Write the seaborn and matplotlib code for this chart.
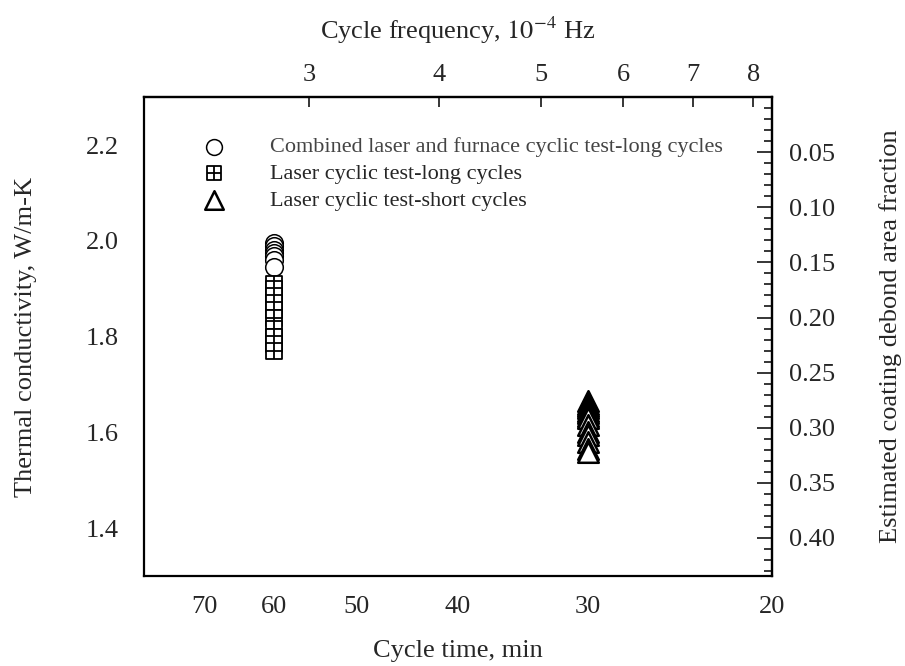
import numpy as np
import pandas as pd
import seaborn as sns
import matplotlib.pyplot as plt
import matplotlib as mpl
from matplotlib.path import Path

# values
combined_time = [60, 60, 60, 60, 60, 60, 60]
combined_k = [1.995, 1.99, 1.982, 1.975, 1.968, 1.96, 1.945]

laser_long_time = [60, 60, 60, 60, 60, 60, 60, 60, 60, 60]
laser_long_k = [1.91, 1.90, 1.885, 1.87, 1.855, 1.84, 1.815, 1.80, 1.785, 1.77]

laser_short_time = [30] * 14
laser_short_k = [1.665, 1.66, 1.655, 1.65, 1.645, 1.64, 1.635, 1.63,
                 1.615, 1.60, 1.595, 1.58, 1.565, 1.56]

labels = ['Combined laser and furnace cyclic test-long cycles',
          'Laser cyclic test-long cycles',
          'Laser cyclic test-short cycles']

bottom_ticks = [70, 60, 50, 40, 30, 20]
top_ticks = [3, 4, 5, 6, 7, 8]
right_ticks = [0.05, 0.10, 0.15, 0.20, 0.25, 0.30, 0.35, 0.40]
k_full = 2.3  # conductivity of an intact coating

sns.set_style('white')
plt.rcParams['font.family'] = ['Liberation Serif', 'DejaVu Serif']
plt.rcParams['mathtext.fontset'] = 'stix'

# square with a cross inside
box_cross = Path(
    [(-1, -1), (1, -1), (1, 1), (-1, 1), (-1, -1), (0, -1), (0, 1), (-1, 0), (1, 0)],
    [Path.MOVETO, Path.LINETO, Path.LINETO, Path.LINETO, Path.CLOSEPOLY,
     Path.MOVETO, Path.LINETO, Path.MOVETO, Path.LINETO])

fig = plt.figure(figsize=(9.05, 6.66), dpi=100)
ax = fig.add_axes([0.159, 0.135, 0.694, 0.719])

d1 = pd.DataFrame({'t': combined_time, 'k': combined_k})
d2 = pd.DataFrame({'t': laser_long_time, 'k': laser_long_k})
d3 = pd.DataFrame({'t': laser_short_time, 'k': laser_short_k})

sns.scatterplot(data=d1, x='t', y='k', marker='o', s=160, color='white',
                edgecolor='black', linewidth=1.1, label=labels[0], ax=ax, zorder=3)
sns.scatterplot(data=d2, x='t', y='k', marker=box_cross, s=120, color='white',
                edgecolor='black', linewidth=1.3, label=labels[1], ax=ax, zorder=3)
sns.scatterplot(data=d3, x='t', y='k', marker='^', s=220, color='white',
                edgecolor='black', linewidth=1.8, label=labels[2], ax=ax, zorder=3)

ax.set_xscale('log')
ax.set_xlim(80, 20)
ax.set_ylim(1.3, 2.3)
ax.xaxis.set_major_locator(mpl.ticker.FixedLocator(bottom_ticks))
ax.xaxis.set_major_formatter(mpl.ticker.FixedFormatter([str(t) for t in bottom_ticks]))
ax.xaxis.set_minor_locator(mpl.ticker.NullLocator())
ax.yaxis.set_major_locator(mpl.ticker.FixedLocator([1.4, 1.6, 1.8, 2.0, 2.2]))
ax.yaxis.set_major_formatter(mpl.ticker.FormatStrFormatter('%.1f'))
ax.yaxis.set_minor_locator(mpl.ticker.MultipleLocator(0.05))

ax.tick_params(axis='x', which='major', direction='in', length=7, width=1.3,
               labelsize=19, pad=14)
ax.tick_params(axis='y', which='major', direction='in', length=7, width=1.3,
               labelsize=19, pad=18)
ax.tick_params(axis='y', which='minor', direction='in', length=5, width=1.3)
for sp in ax.spines.values():
    sp.set_linewidth(1.6)
    sp.set_color('black')

ax.set_xlabel('Cycle time, min', fontsize=19, labelpad=16)
ax.set_ylabel('Thermal conductivity, W/m-K', fontsize=19, labelpad=35)

# top axis: frequency in 1e-4 Hz
def t_to_f(t):
    t = np.asarray(t, dtype=float)
    with np.errstate(divide='ignore'):
        return 1e4 / (60.0 * t)

top = ax.secondary_xaxis('top', functions=(t_to_f, t_to_f))
top.xaxis.set_major_locator(mpl.ticker.FixedLocator(top_ticks))
top.xaxis.set_major_formatter(mpl.ticker.FixedFormatter([str(t) for t in top_ticks]))
top.xaxis.set_minor_locator(mpl.ticker.NullLocator())
top.tick_params(axis='x', which='major', direction='in', length=7, width=1.3,
                labelsize=19, pad=8)
top.spines['top'].set_linewidth(1.6)
top.set_xlabel('Cycle frequency, $10^{-4}$ Hz', fontsize=19, labelpad=18)

# right axis: estimated debond fraction
right = ax.secondary_yaxis('right', functions=(lambda k: 1 - k / k_full,
                                               lambda d: k_full * (1 - d)))
right.yaxis.set_major_locator(mpl.ticker.FixedLocator(right_ticks))
right.yaxis.set_major_formatter(mpl.ticker.FormatStrFormatter('%.2f'))
right.yaxis.set_minor_locator(mpl.ticker.MultipleLocator(0.01))
right.tick_params(axis='y', which='major', direction='in', length=11, width=1.3,
                  labelsize=19, pad=12)
right.tick_params(axis='y', which='minor', direction='in', length=6, width=1.3)
right.spines['right'].set_linewidth(1.6)
right.set_ylabel('Estimated coating debond area fraction', fontsize=19,
                 rotation=90, labelpad=32)

leg = ax.legend(loc='upper left', bbox_to_anchor=(0.055, 0.945), frameon=False,
                fontsize=16, handletextpad=1.5, labelspacing=0.27, markerscale=0.9,
                borderaxespad=0.2)
leg.get_texts()[0].set_color('#444444')

plt.savefig('out.png', dpi=100)
